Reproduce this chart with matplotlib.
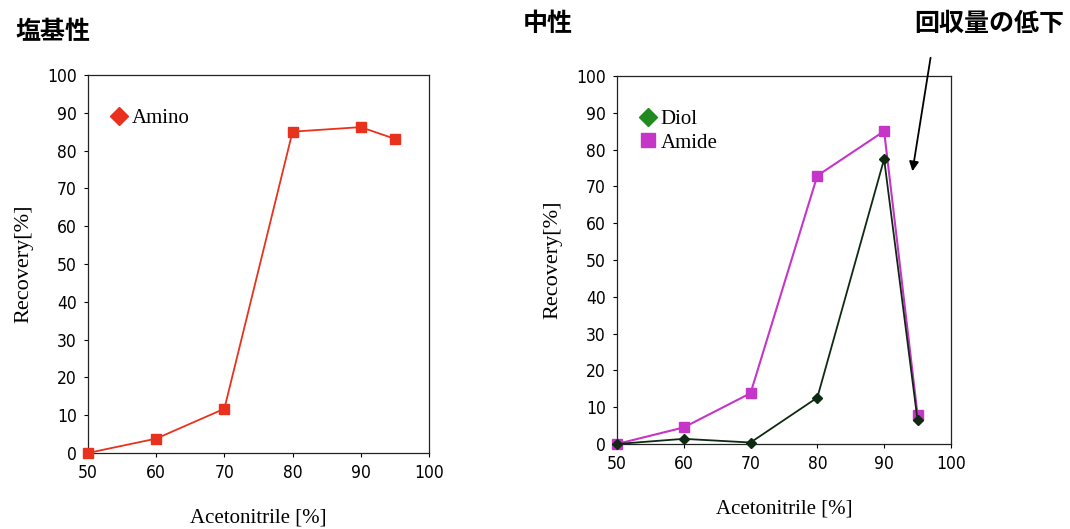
import matplotlib
matplotlib.use("Agg")
import matplotlib.pyplot as plt

acetonitrile = [50, 60, 70, 80, 90, 95]
amino = [0, 3.8, 11.7, 85.0, 86.2, 83.1]
diol = [0, 1.4, 0.4, 12.6, 77.4, 6.5]
amide = [0, 4.5, 13.8, 72.9, 85.0, 8.0]

x_ticks = [50, 60, 70, 80, 90, 100]
y_ticks = list(range(0, 101, 10))

serif_font = ["Liberation Serif", "DejaVu Serif"]
cjk_font = ["Noto Sans CJK JP", "DejaVu Sans"]

fig = plt.figure(figsize=(10.70, 5.29), dpi=100)
ax1 = fig.add_axes([0.0822, 0.1437, 0.3187, 0.7146])
ax2 = fig.add_axes([0.5766, 0.1607, 0.3121, 0.6957])


def style_axis(ax):
    ax.set_xlim(50, 100)
    ax.set_ylim(0, 100)
    ax.set_xticks(x_ticks)
    ax.set_yticks(y_ticks)
    ax.tick_params(direction="out", length=3, width=0.8, pad=5)
    for lbl in ax.get_xticklabels() + ax.get_yticklabels():
        lbl.set_fontfamily("DejaVu Sans")
        lbl.set_fontstretch("condensed")
        lbl.set_fontsize(12.5)
    for sp in ax.spines.values():
        sp.set_linewidth(0.9)
        sp.set_color("#222222")
    ax.set_ylabel("Recovery[%]", fontsize=16, family=serif_font, labelpad=10)
    ax.set_xlabel("Acetonitrile [%]", fontsize=15, family=serif_font, labelpad=19)


# basic phase
ax1.plot(acetonitrile, amino, color="#e8321e", lw=1.3, marker="s", ms=7,
         clip_on=False, zorder=3)
ax1.plot([], [], ls="none", marker="D", ms=9, color="#e8321e", label="Amino")
style_axis(ax1)
ax1.legend(loc="upper left", bbox_to_anchor=(0.0, 0.96), frameon=False,
           handletextpad=0.0, handlelength=1.2,
           prop={"family": serif_font, "size": 15})

# neutral phase
ax2.plot(acetonitrile, amide, color="#c535c8", lw=1.5, marker="s", ms=7,
         clip_on=False, zorder=3)
ax2.plot(acetonitrile, diol, color="#0f2a12", lw=1.3, marker="D", ms=5,
         clip_on=False, zorder=4)
ax2.plot([], [], ls="none", marker="D", ms=9, color="#1f8a1f", label="Diol")
ax2.plot([], [], ls="none", marker="s", ms=10, color="#c535c8", label="Amide")
style_axis(ax2)
ax2.legend(loc="upper left", bbox_to_anchor=(0.0, 0.96), frameon=False,
           handletextpad=0.0, handlelength=1.2, labelspacing=0.2,
           prop={"family": serif_font, "size": 15})

fig.text(0.014, 0.94, "塩基性", fontsize=18, fontweight="bold", family=cjk_font,
         va="center")
fig.text(0.489, 0.955, "中性", fontsize=18, fontweight="bold", family=cjk_font,
         va="center")
fig.text(0.854, 0.955, "回収量の低下", fontsize=18, fontweight="bold",
         family=cjk_font, va="center")

fig.add_artist(matplotlib.patches.FancyArrowPatch(
    (931 / 1070, 1 - 55 / 529), (912 / 1070, 1 - 174 / 529),
    transform=fig.transFigure, arrowstyle="-|>", mutation_scale=14,
    lw=1.3, color="black"))

fig.savefig("out.png", dpi=100)
